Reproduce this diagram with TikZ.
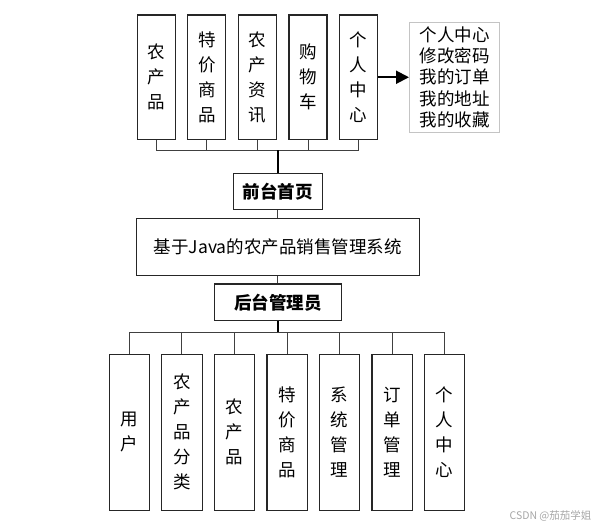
\documentclass[tikz,border=0pt]{standalone}
\usepackage{fontspec}
\newfontfamily\cjk{Noto Sans CJK SC}
\usetikzlibrary{arrows.meta}
\definecolor{linkgray}{HTML}{404040}
\definecolor{listborder}{HTML}{C4C4C4}
\tikzset{
  box/.style={draw=black!85, line width=1.1pt, fill=white, inner sep=0pt, align=center,
    font=\cjk\fontsize{17.5}{25}\selectfont},
  topbox/.style={box, minimum width=38pt, minimum height=124.5pt},
  botbox/.style={box, minimum width=40.4pt, minimum height=155.7pt},
  link/.style={draw=linkgray, line width=0.9pt},
  trunk/.style={draw=black, line width=2pt},
  arrowline/.style={draw=black, line width=2pt, -{Triangle[length=13pt,width=13pt]}}
}
\begin{document}
\begin{tikzpicture}[x=1pt,y=-1pt]
\useasboundingbox (0,0) rectangle (596,525);
% top row
\node[topbox] (t1) at (156.3,77.25) {农\\产\\品};
\node[topbox] (t2) at (206.8,77.25) {特\\价\\商\\品};
\node[topbox] (t3) at (257.3,77.25) {农\\产\\资\\讯};
\node[topbox] (t4) at (308.0,77.25) {购\\物\\车};
\node[topbox] (t5) at (358.5,77.25) {个\\人\\中\\心};
\node[box, draw=listborder, line width=1pt, minimum width=90pt, minimum height=109.6pt,
  font=\cjk\fontsize{17.5}{21.3}\selectfont] (list) at (454.5,77.25)
  {个人中心\\修改密码\\我的订单\\我的地址\\我的收藏};
\draw[arrowline] (t5.east) -- (list.west);
% top connectors
\coordinate (tb) at (277.8,150);
\draw[link] (t1.south) |- (t5.south |- tb) -- (t5.south);
\draw[link] (t2.south) -- (t2.south |- tb);
\draw[link] (t3.south) -- (t3.south |- tb);
\draw[link] (t4.south) -- (t4.south |- tb);
% middle
\node[box, font=\cjk\bfseries\fontsize{17.5}{21}\selectfont, minimum width=89pt, minimum height=36pt] (front) at (277.8,191.3) {前台首页};
\node[box, minimum width=282.6pt, minimum height=56.7pt] (main) at (277.8,246.7) {基于Java的农产品销售管理系统};
\node[box, font=\cjk\bfseries\fontsize{17.5}{21}\selectfont, minimum width=127.4pt, minimum height=36.7pt] (back) at (277.8,302.3) {后台管理员};
\draw[trunk] (tb) -- (front.north);
\draw[link] (front.south) -- (main.north);
\draw[link] (main.south) -- (back.north);
% bottom row
\node[botbox] (b1) at (129.5,432.2) {用\\户};
\node[botbox] (b2) at (181.9,432.2) {农\\产\\品\\分\\类};
\node[botbox] (b3) at (234.5,432.2) {农\\产\\品};
\node[botbox] (b4) at (287.2,432.2) {特\\价\\商\\品};
\node[botbox] (b5) at (339.5,432.2) {系\\统\\管\\理};
\node[botbox] (b6) at (392.2,432.2) {订\\单\\管\\理};
\node[botbox] (b7) at (444.5,432.2) {个\\人\\中\\心};
\coordinate (bb) at (277.8,332);
\draw[link] (b1.north) |- (b7.north |- bb) -- (b7.north);
\foreach \i in {2,...,6} { \draw[link] (b\i.north) -- (b\i.north |- bb); }
\draw[trunk] (back.south) -- (bb);
% watermark
\node[text=black!35, font=\cjk\fontsize{10.5}{12}\selectfont, inner sep=0pt] (wm) at (550.5,515.7) {CSDN @茄茄学姐};
\end{tikzpicture}
\end{document}
